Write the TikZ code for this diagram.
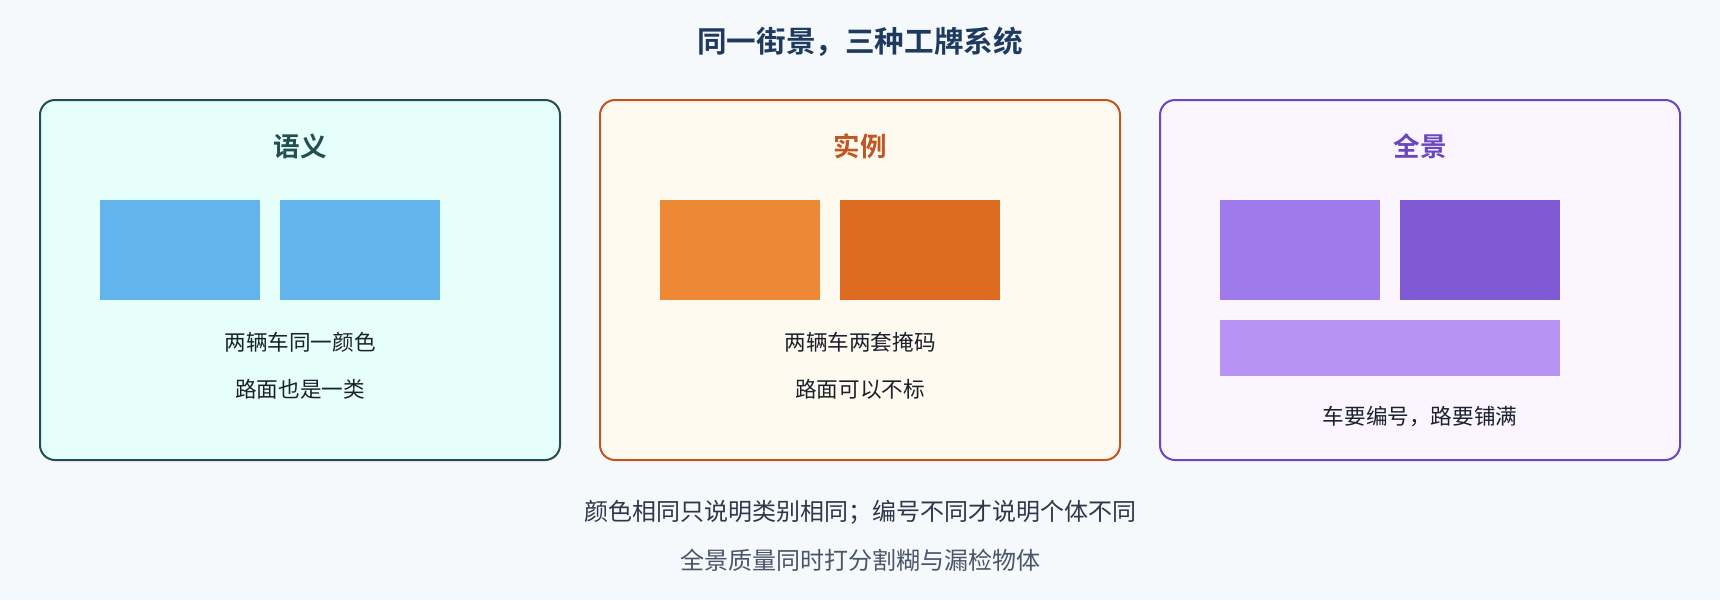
\documentclass[tikz,border=0pt]{standalone}
\usepackage{fontspec}
\setmainfont{Noto Sans CJK SC}[BoldFont={Noto Sans CJK SC Bold}]
\definecolor{bgc}{HTML}{F6F9FC}
\definecolor{titlec}{HTML}{1E3A5F}
\definecolor{tealb}{HTML}{234E52}
\definecolor{tealf}{HTML}{E6FFFA}
\definecolor{orb}{HTML}{C05621}
\definecolor{orf}{HTML}{FFFAF0}
\definecolor{pub}{HTML}{6B46C1}
\definecolor{puf}{HTML}{FAF5FF}
\definecolor{blu}{HTML}{63B3ED}
\definecolor{or1}{HTML}{ED8936}
\definecolor{or2}{HTML}{DD6B20}
\definecolor{pu1}{HTML}{9F7AEA}
\definecolor{pu2}{HTML}{805AD5}
\definecolor{pu3}{HTML}{B794F4}
\definecolor{bodyc}{HTML}{1A202C}
\definecolor{note1}{HTML}{2D3748}
\definecolor{note2}{HTML}{4A5568}
\begin{document}
\begin{tikzpicture}[x=1pt,y=-1pt,
  panel/.style={draw=#1,line width=2pt,rounded corners=15pt},
  ptitle/.style={font=\fontsize{26.5}{30}\selectfont\bfseries,text=#1,inner sep=0pt},
  body/.style={font=\fontsize{21.6}{25}\selectfont,text=bodyc,inner sep=0pt},
  note/.style={font=\fontsize{24}{28}\selectfont,text=#1,inner sep=0pt},
  blockbox/.style={fill=#1,draw=none}]
\useasboundingbox (0,0) rectangle (1720,600);
\fill[bgc] (0,0) rectangle (1720,600);
\node[font=\fontsize{29.6}{34}\selectfont\bfseries,text=titlec,inner sep=0pt] (title) at (860,42) {同一街景，三种工牌系统};
% panel 1
\filldraw[panel=tealb,fill=tealf] (40,100) rectangle (560,460);
\node[ptitle=tealb] (t1) at (300,146) {语义};
\fill[blockbox=blu] (100,200) rectangle (260,300);
\fill[blockbox=blu] (280,200) rectangle (440,300);
\node[body] (a1) at (300,342) {两辆车同一颜色};
\node[body] (a2) at (300,389) {路面也是一类};
% panel 2
\filldraw[panel=orb,fill=orf] (600,100) rectangle (1120,460);
\node[ptitle=orb] (t2) at (860,146) {实例};
\fill[blockbox=or1] (660,200) rectangle (820,300);
\fill[blockbox=or2] (840,200) rectangle (1000,300);
\node[body] (b1) at (860,342) {两辆车两套掩码};
\node[body] (b2) at (860,389) {路面可以不标};
% panel 3
\filldraw[panel=pub,fill=puf] (1160,100) rectangle (1680,460);
\node[ptitle=pub] (t3) at (1420,146) {全景};
\fill[blockbox=pu1] (1220,200) rectangle (1380,300);
\fill[blockbox=pu2] (1400,200) rectangle (1560,300);
\fill[blockbox=pu3] (1220,320) rectangle (1560,376);
\node[body] (c1) at (1420,417) {车要编号，路要铺满};
% notes
\node[note=note1] (n1) at (860,512) {颜色相同只说明类别相同；编号不同才说明个体不同};
\node[note=note2] (n2) at (860,560) {全景质量同时打分割糊与漏检物体};
\end{tikzpicture}
\end{document}
